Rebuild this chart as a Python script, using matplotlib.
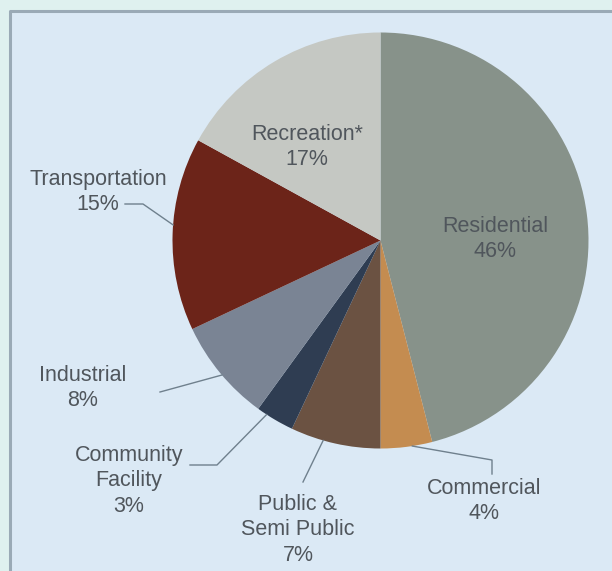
import numpy as np
import matplotlib
matplotlib.use("Agg")
import matplotlib.pyplot as plt
from matplotlib.patches import Rectangle

categories = ["Residential", "Commercial", "Public &\nSemi Public", "Community\nFacility",
              "Industrial", "Transportation", "Recreation*"]
shares = [46, 4, 7, 3, 8, 15, 17]
colors = ["#87928a", "#c48c50", "#6b5242", "#2f3d52", "#7a8494", "#6c2419", "#c5c8c3"]

W, H = 612, 571
CX, CY, R = 380.5, 240.5, 208.0   # pie centre / radius in pixels


def px(x, y):
    """pixel position (top-left origin) -> data coords where the pie has radius 1"""
    return (x - CX) / R, (CY - y) / R


fig = plt.figure(figsize=(W / 100, H / 100), dpi=100)
fig.patch.set_facecolor("#dff1ef")
ax = fig.add_axes([0, 0, 1, 1])
x0, y0 = px(0, H)
x1, y1 = px(W, 0)

# light blue panel with a darker top/left border
px0, py0 = px(10, H)
px1, py1 = px(W + 5, 11)
ax.add_patch(Rectangle((px0, py0), px1 - px0, py1 - py0, facecolor="#dbe9f5",
                       edgecolor="none", zorder=0))
ax.plot([px0, px0, px1], [py0, py1, py1], color="#9aaab6", lw=2.2, zorder=1)

wedges, _ = ax.pie(shares, colors=colors, startangle=90, counterclock=False,
                   radius=1.0, center=(0, 0), wedgeprops=dict(linewidth=0),
                   frame=True)
ax.set_xlim(x0, x1)
ax.set_ylim(y0, y1)
ax.set_aspect("equal")
ax.axis("off")

text_kw = dict(ha="center", va="center", fontsize=15.5, color="#50565c",
               family=["Liberation Sans", "DejaVu Sans"], linespacing=1.3, zorder=5)

# label block centres (pixels)
label_pos = {
    "Residential": (495, 239),
    "Commercial": (484, 501),
    "Public &\nSemi Public": (298, 530),
    "Community\nFacility": (129, 481),
    "Industrial": (83, 388),
    "Transportation": (98, 192),
    "Recreation*": (307, 147),
}
for name, val in zip(categories, shares):
    lx, ly = px(*label_pos[name])
    ax.text(lx, ly, f"{name}\n{val}%", **text_kw)

# leader lines: angle where the line meets the rim, then the bend points (pixels)
leaders = {
    "Transportation": (175.7, [(143, 204), (125, 204)]),
    "Industrial": (220.3, [(160, 392)]),
    "Community\nFacility": (236.8, [(217, 465), (190, 465)]),
    "Public &\nSemi Public": (254.0, [(303, 482)]),
    "Commercial": (278.8, [(492, 460), (492, 474)]),
}
for name, (ang, bends) in leaders.items():
    a = np.deg2rad(ang)
    xs = [np.cos(a)]
    ys = [np.sin(a)]
    for bx, by in bends:
        dx, dy = px(bx, by)
        xs.append(dx)
        ys.append(dy)
    ax.plot(xs, ys, color="#6f808d", lw=1.0, zorder=4)

fig.savefig("out.png", dpi=100, facecolor=fig.get_facecolor())
